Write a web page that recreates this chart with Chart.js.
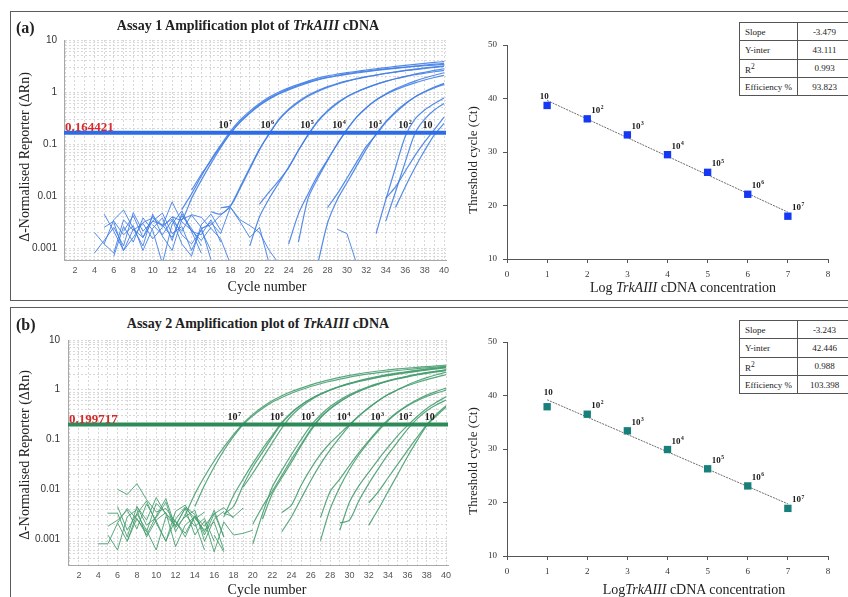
<!DOCTYPE html>
<html>
<head>
<meta charset="utf-8">
<script src="https://cdn.jsdelivr.net/npm/chart.js@4.4.1/dist/chart.umd.min.js"></script>
<style>
  body { margin: 0; width: 848px; height: 597px; overflow: hidden; background: #fff; position: relative; font-family: "Liberation Serif", serif; color: #222; }
  canvas { position: absolute; }
  .panel { position: absolute; border: 1.5px solid #5c5c5c; }
  .tag { position: absolute; font-weight: bold; font-size: 16px; transform: translateY(-50%); }
  .title { position: absolute; font-weight: bold; font-size: 14px; white-space: nowrap; transform: translate(-50%, -50%); }
  .ytitle { position: absolute; white-space: nowrap; transform: translate(-50%, -50%) rotate(-90deg); }
  .xtitle { position: absolute; font-size: 14px; white-space: nowrap; transform: translate(-50%, -50%); }
  table.fit { position: absolute; border-collapse: collapse; font-size: 9px; background: #fff; table-layout: fixed; }
  table.fit td { border: 1px solid #555; height: 17.3px; padding: 0 0 0 5px; }
  table.fit td + td { text-align: center; padding: 0; }
</style>
</head>
<body>
<div class="panel" style="left:10px;top:11px;width:900px;height:288px"></div>
<div class="panel" style="left:10px;top:307px;width:900px;height:400px"></div>

<canvas id="ampA" width="444" height="250" style="left:12px;top:34px"></canvas>
<canvas id="stdA" width="390" height="250" style="left:458px;top:34px"></canvas>
<canvas id="ampB" width="444" height="255" style="left:12px;top:334px"></canvas>
<canvas id="stdB" width="390" height="250" style="left:458px;top:334px"></canvas>

<div class="tag" style="left:16px;top:27.5px">(a)</div>
<div class="title" style="left:248px;top:26px">Assay 1 Amplification plot of <i>TrkAIII</i> cDNA</div>
<div class="ytitle" style="left:25px;top:157px;font-size:14px">Δ-Normalised Reporter (ΔRn)</div>
<div class="xtitle" style="left:267px;top:287px">Cycle number</div>
<div class="ytitle" style="left:473px;top:160px;font-size:13px">Threshold cycle (Ct)</div>
<div class="xtitle" style="left:683px;top:288px">Log <i>TrkAIII</i> cDNA concentration</div>

<div class="tag" style="left:16px;top:325px">(b)</div>
<div class="title" style="left:258px;top:324px">Assay 2 Amplification plot of <i>TrkAIII</i> cDNA</div>
<div class="ytitle" style="left:25px;top:455px;font-size:14px">Δ-Normalised Reporter (ΔRn)</div>
<div class="xtitle" style="left:267px;top:590px">Cycle number</div>
<div class="ytitle" style="left:473px;top:461px;font-size:13px">Threshold cycle (Ct)</div>
<div class="xtitle" style="left:694px;top:590px">Log<i>TrkAIII</i> cDNA concentration</div>

<table class="fit" id="fitA" style="left:739px;top:22px;width:112px"></table>
<table class="fit" id="fitB" style="left:739px;top:320px;width:112px"></table>

<script>
// cycle axis limits, thresholds
const cycleLo = 0.87, cycleHi = 40.2;
const cycleTicks = Array.from({ length: 40 }, (_, i) => i + 1);
const thresholdA = 0.164421, thresholdB = 0.199717;

// standard curves: log copies vs Ct
const logConc = [1, 2, 3, 4, 5, 6, 7];
const ctA = [38.7, 36.2, 33.2, 29.5, 26.2, 22.1, 18.0];
const ctB = [37.9, 36.5, 33.4, 29.9, 26.3, 23.1, 18.9];
const slopeA = -3.479, interA = 43.111;
const slopeB = -3.243, interB = 42.446;
const fitLabels = ['Slope', 'Y-inter', 'R<sup>2</sup>', 'Efficiency %'];
const fitValuesA = ['-3.479', '43.111', '0.993', '93.823'];
const fitValuesB = ['-3.243', '42.446', '0.988', '103.398'];

// nudges (px) of the dilution labels that sit on the threshold line
const labelShiftA = [-4, -2, -3, -3, -3, -3, -5];
const labelShiftB = [4, -7, -5, -5, -6, -6, -8];

// Assay 1 amplification runs (ΔRn per cycle, starting at "from")
const runsA7 = [
  { from: 13, dRn: [0.0055, 0.011, 0.024, 0.05, 0.095, 0.175, 0.29, 0.43, 0.6, 0.8, 1.0, 1.2, 1.4, 1.62, 1.85, 2.05, 2.2, 2.35, 2.5, 2.65, 2.8, 2.95, 3.1, 3.25, 3.4, 3.55, 3.7, 3.85] },
  { from: 14, dRn: [0.013, 0.026, 0.048, 0.09, 0.16, 0.26, 0.39, 0.55, 0.73, 0.92, 1.1, 1.3, 1.5, 1.7, 1.88, 2.03, 2.18, 2.32, 2.46, 2.6, 2.73, 2.86, 2.98, 3.1, 3.2, 3.3, 3.4] },
  { from: 12, dRn: [0.004, 0.0035, 0.009, 0.02, 0.042, 0.085, 0.16, 0.27, 0.4, 0.57, 0.76, 0.95, 1.15, 1.35, 1.55, 1.75, 1.93, 2.1, 2.25, 2.4, 2.53, 2.66, 2.78, 2.9, 3.03, 3.16, 3.3, 3.43, 3.56] }
];
const runsA6 = [
  { from: 16, dRn: [0.005, 0.0045, 0.0065, 0.015, 0.035, 0.08, 0.155, 0.3, 0.47, 0.66, 0.87, 1.07, 1.27, 1.46, 1.64, 1.81, 1.97, 2.12, 2.27, 2.42, 2.57, 2.7, 2.83, 2.96, 3.1] },
  { from: 17, dRn: [0.006, 0.0065, 0.014, 0.033, 0.078, 0.16, 0.29, 0.45, 0.63, 0.83, 1.03, 1.23, 1.42, 1.6, 1.78, 1.95, 2.12, 2.28, 2.44, 2.6, 2.75, 2.9, 3.05, 3.2] }
];
const runsA5 = [
  { from: 21, dRn: [0.007, 0.012, 0.02, 0.035, 0.075, 0.15, 0.28, 0.44, 0.62, 0.82, 1.01, 1.2, 1.4, 1.6, 1.8, 2.0, 2.2, 2.4, 2.6, 2.8] },
  { from: 20, dRn: [0.0011, 0.004, 0.009, 0.018, 0.036, 0.075, 0.15, 0.27, 0.42, 0.6, 0.8, 1.0, 1.2, 1.4, 1.6, 1.8, 1.98, 2.15, 2.3, 2.45, 2.6] }
];
const runsA4 = [
  { from: 24, dRn: [0.0012, 0.0045, 0.011, 0.025, 0.05, 0.1, 0.19, 0.33, 0.5, 0.7, 0.9, 1.1, 1.3, 1.5, 1.7, 1.9, 2.1] },
  { from: 25, dRn: [0.0013, 0.009, 0.022, 0.048, 0.1, 0.19, 0.33, 0.5, 0.7, 0.92, 1.15, 1.38, 1.62, 1.86, 2.1, 2.35] }
];
const runsA3 = [
  { from: 28, dRn: [0.006, 0.011, 0.022, 0.045, 0.09, 0.15, 0.26, 0.4, 0.58, 0.8, 1.02, 1.25, 1.47] },
  { from: 27, dRn: [0.0005, 0.003, 0.0085, 0.018, 0.038, 0.08, 0.155, 0.27, 0.42, 0.6, 0.8, 1.0, 1.2, 1.4] }
];
const runsA2 = [
  { from: 33, dRn: [0.0019, 0.0085, 0.035, 0.14, 0.3, 0.45, 0.6, 0.77] },
  { from: 34, dRn: [0.0033, 0.012, 0.045, 0.16, 0.3, 0.45, 0.6] }
];
const runsA1 = [
  { from: 34, dRn: [0.009, 0.015, 0.03, 0.06, 0.11, 0.19, 0.33] },
  { from: 35, dRn: [0.006, 0.015, 0.035, 0.075, 0.15, 0.25] }
];
const noiseA = [
  { from: 4, dRn: [0.002, 0.0012, 0.0008, 0.0035, 0.0022, 0.003, 0.0015, 0.0025, 0.004, 0.0018, 0.0012, 0.0022, 0.0009] },
  { from: 4, dRn: [0.0008, 0.0014, 0.0025, 0.0011, 0.0048, 0.0021, 0.0033, 0.0028, 0.0016, 0.0042, 0.0024, 0.0011] },
  { from: 5, dRn: [0.0045, 0.0021, 0.0009, 0.0016, 0.0031, 0.0038, 0.0026, 0.0077, 0.0032, 0.0022, 0.0014, 0.0025] },
  { from: 5, dRn: [0.0012, 0.0035, 0.0054, 0.0024, 0.0011, 0.0045, 0.0017, 0.0009, 0.0036, 0.0043, 0.0025, 0.0006] },
  { from: 6, dRn: [0.0007, 0.0026, 0.0013, 0.0038, 0.0022, 0.0005, 0.0029, 0.0052, 0.0021, 0.0018, 0.0035, 0.0013] },
  { from: 6, dRn: [0.0031, 0.0009, 0.0023, 0.0016, 0.0041, 0.0027, 0.0036, 0.0012, 0.0007, 0.0028, 0.0045, 0.0022] },
  { from: 5, dRn: [0.0025, 0.0033, 0.0018, 0.0027, 0.0009, 0.0024, 0.0038, 0.0014, 0.0046, 0.0021, 0.0008] },
  { from: 7, dRn: [0.0021, 0.0042, 0.0016, 0.0033, 0.0047, 0.0019, 0.0026, 0.0009, 0.0023, 0.0031, 0.0019, 0.0061, 0.0032, 0.0016, 0.0025, 0.0005] },
  { from: 10, dRn: [0.0028, 0.0018, 0.0034, 0.0021, 0.0044, 0.0039, 0.0024, 0.0015, 0.0005] },
  { from: 15, dRn: [0.0024, 0.0028, 0.0043, 0.0061, 0.0035, 0.0027, 0.002, 0.0009, 0.0005] },
  { from: 29, dRn: [0.0023, 0.0019, 0.0005] }
];

// Assay 2 amplification runs
const runsB7 = [
  { from: 13, dRn: [0.003, 0.008, 0.018, 0.037, 0.07, 0.125, 0.21, 0.32, 0.45, 0.6, 0.76, 0.92, 1.08, 1.25, 1.42, 1.6, 1.78, 1.95, 2.1, 2.25, 2.38, 2.5, 2.62, 2.72, 2.82, 2.92, 3.02, 3.12] },
  { from: 14, dRn: [0.0045, 0.012, 0.028, 0.06, 0.115, 0.2, 0.3, 0.42, 0.56, 0.7, 0.85, 1.0, 1.16, 1.32, 1.48, 1.64, 1.8, 1.95, 2.08, 2.2, 2.32, 2.44, 2.55, 2.66, 2.76, 2.86, 2.95] }
];
const runsB6 = [
  { from: 17, dRn: [0.0032, 0.0045, 0.012, 0.028, 0.055, 0.11, 0.21, 0.34, 0.49, 0.65, 0.82, 0.99, 1.15, 1.31, 1.47, 1.62, 1.77, 1.92, 2.06, 2.2, 2.34, 2.48, 2.62, 2.75] },
  { from: 19, dRn: [0.011, 0.021, 0.042, 0.085, 0.17, 0.3, 0.45, 0.62, 0.8, 0.98, 1.16, 1.34, 1.52, 1.7, 1.87, 2.03, 2.18, 2.32, 2.46, 2.6, 2.72, 2.84] },
  { from: 17, dRn: [0.0028, 0.0075, 0.016, 0.033, 0.065, 0.12, 0.22, 0.35, 0.5, 0.66, 0.83, 1.0, 1.17, 1.34, 1.5, 1.66, 1.82, 1.97, 2.12, 2.27, 2.42, 2.56, 2.7, 2.85] }
];
const runsB5 = [
  { from: 20, dRn: [0.002, 0.0045, 0.009, 0.019, 0.04, 0.08, 0.16, 0.28, 0.42, 0.58, 0.76, 0.94, 1.12, 1.3, 1.48, 1.65, 1.82, 1.98, 2.13, 2.28, 2.42] },
  { from: 21, dRn: [0.0025, 0.008, 0.017, 0.035, 0.075, 0.15, 0.27, 0.41, 0.57, 0.75, 0.93, 1.12, 1.31, 1.5, 1.68, 1.86, 2.03, 2.2, 2.36, 2.52] },
  { from: 20, dRn: [0.0008, 0.0032, 0.011, 0.024, 0.05, 0.1, 0.19, 0.31, 0.46, 0.62, 0.8, 0.98, 1.16, 1.34, 1.52, 1.7, 1.87, 2.04, 2.2, 2.35, 2.5] }
];
const runsB4 = [
  { from: 23, dRn: [0.0034, 0.0048, 0.012, 0.026, 0.05, 0.085, 0.13, 0.2, 0.3, 0.43, 0.6, 0.8, 1.0, 1.2, 1.4, 1.6, 1.8, 2.0] },
  { from: 23, dRn: [0.0014, 0.0028, 0.0065, 0.015, 0.032, 0.062, 0.11, 0.19, 0.3, 0.44, 0.61, 0.8, 1.0, 1.25, 1.5, 1.75, 2.0, 2.25] }
];
const runsB3 = [
  { from: 27, dRn: [0.0027, 0.009, 0.016, 0.03, 0.055, 0.095, 0.16, 0.25, 0.36, 0.49, 0.63, 0.78, 0.93, 1.08] },
  { from: 27, dRn: [0.00093, 0.004, 0.011, 0.025, 0.05, 0.09, 0.15, 0.24, 0.35, 0.47, 0.6, 0.73, 0.86, 0.98] }
];
const runsB2 = [
  { from: 29, dRn: [0.0021, 0.0024, 0.006, 0.013, 0.026, 0.05, 0.09, 0.16, 0.26, 0.38, 0.5, 0.62] },
  { from: 29, dRn: [0.0015, 0.0055, 0.012, 0.022, 0.04, 0.07, 0.12, 0.19, 0.29, 0.42, 0.56, 0.72] }
];
const runsB1 = [
  { from: 32, dRn: [0.0019, 0.004, 0.009, 0.02, 0.045, 0.095, 0.19, 0.3, 0.45] },
  { from: 32, dRn: [0.0053, 0.009, 0.017, 0.032, 0.06, 0.11, 0.2, 0.32, 0.48] }
];
const noiseB = [
  { from: 4, dRn: [0.0008, 0.0008, 0.0021, 0.0009, 0.0032, 0.0015, 0.0006, 0.0028, 0.0019, 0.0041, 0.0012, 0.0023, 0.00055] },
  { from: 5, dRn: [0.0033, 0.0033, 0.0011, 0.0045, 0.0019, 0.0027, 0.0055, 0.0014, 0.0031, 0.0018, 0.0026, 0.0009] },
  { from: 5, dRn: [0.0018, 0.0024, 0.0038, 0.0016, 0.0051, 0.0023, 0.0009, 0.0036, 0.0048, 0.0021, 0.0006] },
  { from: 6, dRn: [0.01, 0.0078, 0.013, 0.0062, 0.0035, 0.0041, 0.0022, 0.0013, 0.0029] },
  { from: 5, dRn: [0.0012, 0.0006, 0.0028, 0.0039, 0.0011, 0.0024, 0.0034, 0.0007, 0.0019, 0.0028, 0.0014, 0.0038, 0.0011] },
  { from: 6, dRn: [0.0021, 0.0041, 0.0025, 0.0014, 0.0052, 0.0033, 0.0018, 0.0042, 0.0026, 0.0015, 0.0022, 0.0006] },
  { from: 6, dRn: [0.0045, 0.0015, 0.0032, 0.0058, 0.0021, 0.0009, 0.0025, 0.0044, 0.0031, 0.0012, 0.0032, 0.0043, 0.0026] },
  { from: 7, dRn: [0.0009, 0.0026, 0.0012, 0.0029, 0.0065, 0.0017, 0.0028, 0.0038, 0.0009, 0.0025, 0.0036] },
  { from: 8, dRn: [0.0045, 0.0024, 0.0068, 0.0031, 0.0023, 0.0011, 0.0029, 0.0018, 0.0033, 0.0011] },
  { from: 14, dRn: [0.0025, 0.0035] },
  { from: 16, dRn: [0.00055, 0.0022, 0.0012, 0.0013, 0.0015] },
  { from: 17, dRn: [0.0033, 0.0028, 0.0042] },
  { from: 16, dRn: [0.0012, 0.00055] }
];

function isPow10(v) {
  const l = Math.log10(v);
  return Math.abs(l - Math.round(l)) < 1e-9;
}

function runSets(runs, color, width, tension) {
  return runs.map(r => ({
    data: r.dRn.map((v, i) => ({ x: r.from + i, y: v })),
    borderColor: color, borderWidth: width, pointRadius: 0, tension: tension
  }));
}

// "10" with a raised exponent
function drawPow(ctx, x, y, exp, size, align) {
  const sup = exp > 1 ? String(exp) : '';
  ctx.font = 'bold ' + size + 'px "Liberation Serif"';
  const w1 = ctx.measureText('10').width;
  ctx.font = 'bold ' + (size * 0.62) + 'px "Liberation Serif"';
  const w2 = sup ? ctx.measureText(sup).width + 0.5 : 0;
  const left = align === 'left' ? x : x - (w1 + w2) / 2;
  ctx.font = 'bold ' + size + 'px "Liberation Serif"';
  ctx.fillText('10', left, y);
  if (sup) {
    ctx.font = 'bold ' + (size * 0.62) + 'px "Liberation Serif"';
    ctx.fillText(sup, left + w1 + 0.5, y - size * 0.42);
  }
}

const ampLabels = {
  id: 'ampLabels',
  afterDatasetsDraw(chart, args, opts) {
    const { ctx, chartArea, scales: { x, y } } = chart;
    const yp = y.getPixelForValue(opts.threshold);
    ctx.save();
    ctx.textBaseline = 'alphabetic';
    ctx.fillStyle = '#d42a2a';
    ctx.font = 'bold 13px "Liberation Serif"';
    ctx.fillText(opts.text, chartArea.left + 1, yp - 2);
    ctx.fillStyle = '#1a1a1a';
    logConc.forEach((e, i) => drawPow(ctx, x.getPixelForValue(opts.ct[i]) + opts.shift[i], yp - 4.5, e, 10));
    ctx.restore();
  }
};

const ptLabels = {
  id: 'ptLabels',
  afterDatasetsDraw(chart, args, opts) {
    const { ctx } = chart;
    const pts = chart.getDatasetMeta(0).data;
    ctx.save();
    ctx.fillStyle = '#1a1a1a';
    ctx.textBaseline = 'alphabetic';
    pts.forEach((p, i) => {
      if (i === 0) drawPow(ctx, p.x + opts.firstDx, p.y + opts.firstDy, logConc[i], 9);
      else drawPow(ctx, p.x + 4, p.y - 6, logConc[i], 9, 'left');
    });
    ctx.restore();
  }
};

function ampChart(id, o) {
  const groups = [o.runs7, o.runs6, o.runs5, o.runs4, o.runs3, o.runs2, o.runs1];
  const curves = [];
  groups.forEach(g => curves.push(...runSets(g, o.color, 1.2, 0.25)));
  return new Chart(document.getElementById(id), {
    type: 'line',
    data: {
      datasets: [
        { data: [{ x: cycleLo, y: o.threshold }, { x: cycleHi, y: o.threshold }], borderColor: o.thrColor, borderWidth: 4, pointRadius: 0 },
        ...curves,
        ...runSets(o.noise, o.color, 1, 0)
      ]
    },
    options: {
      responsive: false,
      animation: false,
      layout: { autoPadding: false, padding: { top: 6, right: o.padRight, left: 0, bottom: 0 } },
      plugins: {
        legend: { display: false },
        tooltip: { enabled: false },
        ampLabels: { threshold: o.threshold, text: o.text, ct: o.ct, shift: o.shift }
      },
      scales: {
        x: {
          type: 'linear', min: cycleLo, max: cycleHi,
          afterFit: s => { s.height = 24; s.paddingLeft = 0; s.paddingRight = 0; },
          afterBuildTicks: s => { s.ticks = cycleTicks.map(v => ({ value: v })); },
          ticks: {
            autoSkip: false, maxRotation: 0, padding: 5, color: '#555',
            font: { family: '"Liberation Sans Narrow", "Liberation Sans"', size: 9 },
            callback: v => (v % 2 === 0) ? v : ''
          },
          grid: { color: '#d8d8d8', drawTicks: false },
          border: { color: '#a8a8a8', dash: [2, 2] }
        },
        y: {
          type: 'logarithmic', min: o.yMin, max: 10,
          afterFit: s => { s.width = o.yWidth; s.paddingTop = 0; s.paddingBottom = 0; },
          afterBuildTicks: s => {
            s.ticks = s.ticks.filter(t => {
              const m = t.value / Math.pow(10, Math.floor(Math.log10(t.value) + 1e-9));
              return Math.abs(m - Math.round(m)) < 1e-6;
            });
          },
          ticks: {
            autoSkip: false, padding: o.yPad, color: '#333',
            font: { family: '"Liberation Sans"', size: 10 },
            callback: v => isPow10(v) ? String(v) : ''
          },
          grid: { color: '#d8d8d8', drawTicks: false },
          border: { color: '#a8a8a8', dash: [2, 2] }
        }
      }
    },
    plugins: [ampLabels]
  });
}

function stdChart(id, o) {
  const x0 = logConc[0], x1 = logConc[logConc.length - 1];
  return new Chart(document.getElementById(id), {
    type: 'scatter',
    data: {
      datasets: [
        { data: logConc.map((c, i) => ({ x: c, y: o.ct[i] })), pointStyle: 'rect', pointRadius: 5.2, borderWidth: 0, backgroundColor: o.color, borderColor: o.color },
        { type: 'line', data: [{ x: x0, y: o.slope * x0 + o.inter }, { x: x1, y: o.slope * x1 + o.inter }], borderColor: '#6b6b6b', borderWidth: 1, borderDash: [2, 1], pointRadius: 0 }
      ]
    },
    options: {
      responsive: false,
      animation: false,
      layout: { autoPadding: false, padding: { top: o.padTop, right: 20, left: 0, bottom: 0 } },
      plugins: {
        legend: { display: false },
        tooltip: { enabled: false },
        ptLabels: { firstDx: o.firstDx, firstDy: o.firstDy }
      },
      scales: {
        x: {
          type: 'linear', min: 0, max: 8,
          afterFit: s => { s.height = o.xHeight; s.paddingLeft = 0; s.paddingRight = 0; },
          ticks: { stepSize: 1, padding: 6, color: '#333', font: { family: '"Liberation Serif"', size: 9 } },
          grid: { drawOnChartArea: false, tickLength: 4, color: '#555' },
          border: { color: '#555' }
        },
        y: {
          min: 10, max: 50,
          afterFit: s => { s.width = 49; s.paddingTop = 0; s.paddingBottom = 0; },
          ticks: { stepSize: 10, padding: 6, color: '#333', font: { family: '"Liberation Serif"', size: 9 } },
          grid: { drawOnChartArea: false, tickLength: 4, color: '#555' },
          border: { color: '#555' }
        }
      }
    },
    plugins: [ptLabels]
  });
}

function fillTable(id, values) {
  document.getElementById(id).innerHTML = '<colgroup><col style="width:58px"><col style="width:54px"></colgroup>' +
    fitLabels.map((l, i) => '<tr><td>' + l + '</td><td>' + values[i] + '</td></tr>').join('');
}

ampChart('ampA', {
  runs7: runsA7, runs6: runsA6, runs5: runsA5, runs4: runsA4, runs3: runsA3, runs2: runsA2, runs1: runsA1,
  noise: noiseA, ct: ctA, shift: labelShiftA, threshold: thresholdA, text: '0.164421',
  color: 'rgba(66,128,230,0.9)', thrColor: '#2d6ce6',
  yMin: 0.00059, yWidth: 52, yPad: 7, padRight: 10
});
ampChart('ampB', {
  runs7: runsB7, runs6: runsB6, runs5: runsB5, runs4: runsB4, runs3: runsB3, runs2: runsB2, runs1: runsB1,
  noise: noiseB, ct: ctB, shift: labelShiftB, threshold: thresholdB, text: '0.199717',
  color: 'rgba(72,158,112,0.9)', thrColor: '#2f8a5a',
  yMin: 0.00033, yWidth: 56, yPad: 8, padRight: 8
});
stdChart('stdA', { ct: ctA, slope: slopeA, inter: interA, color: '#1538f2', padTop: 11, xHeight: 25, firstDx: -3, firstDy: -6 });
stdChart('stdB', { ct: ctB, slope: slopeB, inter: interB, color: '#17807a', padTop: 8, xHeight: 28, firstDx: 1, firstDy: -12 });
fillTable('fitA', fitValuesA);
fillTable('fitB', fitValuesB);
</script>
</body>
</html>
